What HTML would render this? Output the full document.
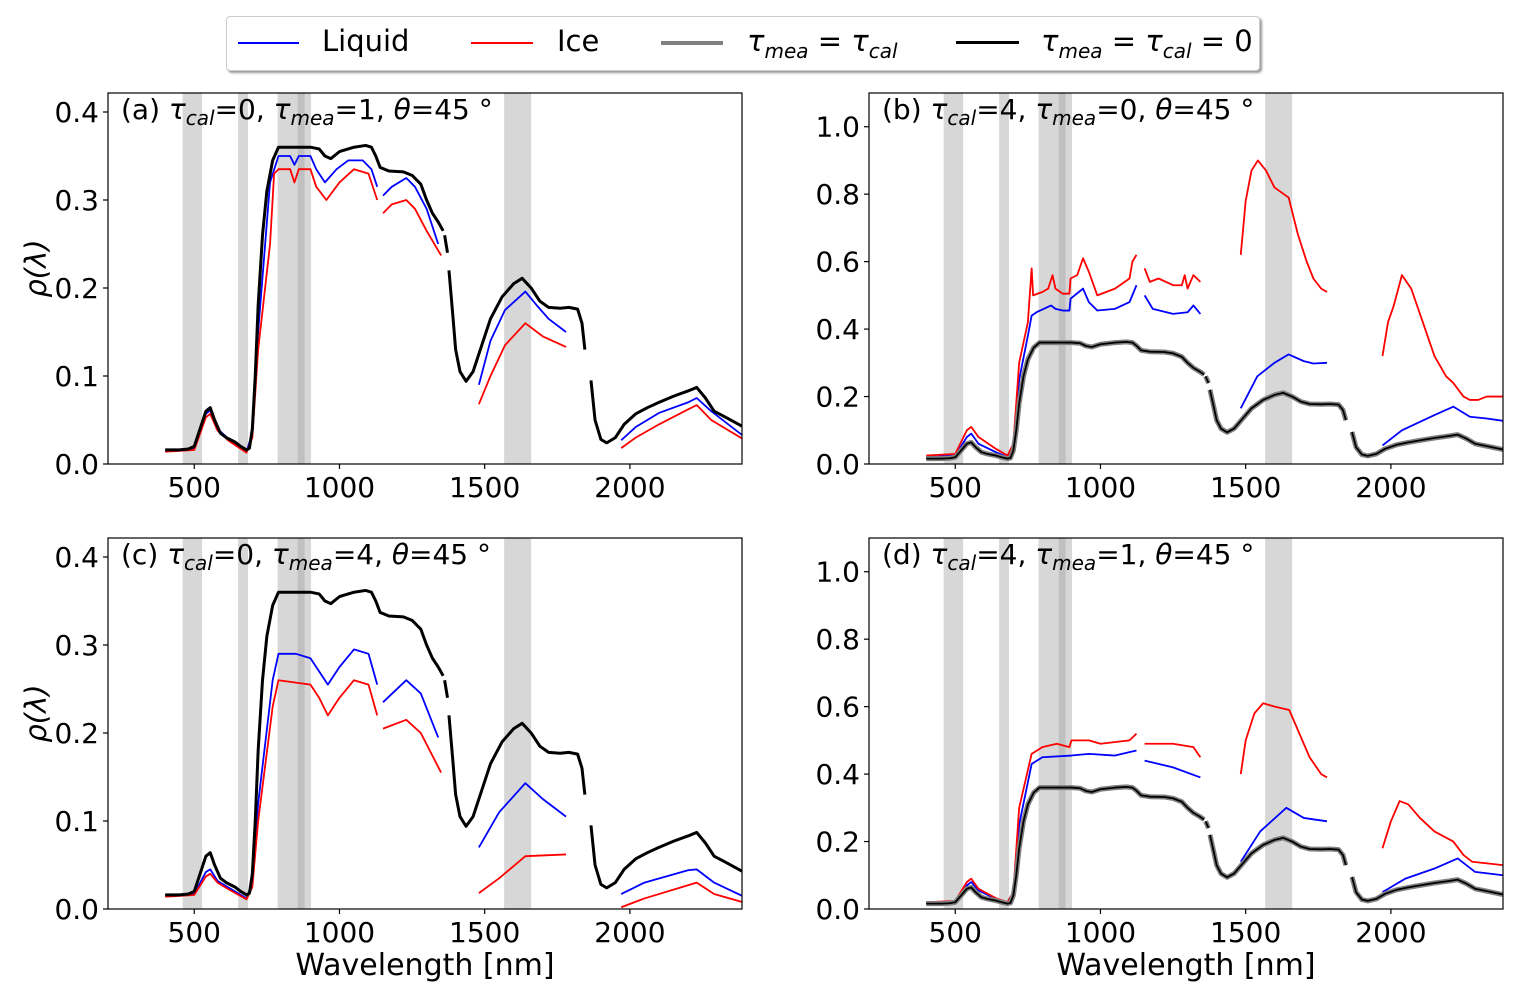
<!DOCTYPE html>
<html><head><meta charset="utf-8"><style>
body{margin:0;background:#fff}
svg text{font-family:"DejaVu Sans","Liberation Sans",sans-serif;fill:#000}
</style></head><body>
<svg id="c" width="1519" height="995" xmlns="http://www.w3.org/2000/svg"></svg>
<script>
const xTicks=[500,1000,1500,2000];
const yTicksSmall=[0.0,0.1,0.2,0.3,0.4];
const yTicksBig=[0.0,0.2,0.4,0.6,0.8,1.0];
const bands=[[460,527],[651,685],[787,902],[856,880],[1567,1660]];
const blackCurve=[
[[400,.016],[450,.016],[480,.017],[500,.02],[520,.04],[540,.06],[555,.064],[570,.05],[590,.035],[610,.03],[640,.025],[660,.02],[680,.016],[690,.018],[700,.04],[710,.1],[720,.18],[735,.26],[750,.31],[770,.345],[790,.36],[900,.36],[930,.358],[950,.35],[970,.347],[1000,.355],[1050,.36],[1090,.362],[1110,.36],[1125,.35],[1140,.337],[1170,.333],[1220,.332],[1250,.328],[1280,.318],[1300,.30],[1320,.285],[1340,.275],[1357,.265]],
[[1362,.26],[1372,.24]],
[[1377,.22],[1390,.17],[1400,.13],[1415,.105],[1436,.094],[1460,.105],[1490,.135],[1520,.165],[1560,.19],[1600,.205],[1629,.211],[1660,.2],[1690,.185],[1720,.178],[1760,.177],[1790,.178],[1820,.176],[1835,.16],[1845,.13]],
[[1866,.095],[1880,.05],[1900,.028],[1920,.024],[1950,.03],[1980,.045],[2020,.057],[2060,.064],[2100,.07],[2150,.077],[2200,.083],[2230,.087],[2260,.075],[2290,.06],[2330,.053],[2386,.043]]];
const liquidA=[
[[400,.015],[500,.018],[540,.057],[555,.061],[580,.04],[620,.028],[680,.014],[700,.035],[720,.15],[761,.32],[790,.35],[830,.35],[845,.34],[860,.35],[900,.35],[920,.335],[950,.32],[990,.335],[1030,.345],[1080,.345],[1110,.335],[1130,.315]],
[[1150,.305],[1180,.315],[1230,.325],[1260,.315],[1300,.29],[1340,.25]],
[[1480,.09],[1520,.14],[1570,.175],[1640,.196],[1680,.18],[1720,.165],[1780,.15]],
[[1970,.027],[2020,.042],[2100,.058],[2200,.07],[2230,.075],[2280,.06],[2386,.033]]];
const iceA=[
[[400,.014],[500,.016],[540,.053],[555,.057],[580,.038],[620,.026],[680,.013],[700,.03],[720,.13],[761,.25],[775,.33],[790,.335],[830,.335],[845,.32],[860,.335],[900,.335],[920,.315],[955,.30],[1000,.32],[1050,.335],[1100,.33],[1130,.30]],
[[1150,.285],[1180,.295],[1230,.30],[1260,.29],[1300,.265],[1350,.237]],
[[1480,.068],[1520,.10],[1570,.135],[1640,.16],[1700,.145],[1780,.133]],
[[1970,.018],[2020,.03],[2100,.045],[2200,.062],[2230,.067],[2280,.05],[2386,.029]]];
const liquidC=[
[[400,.015],[500,.017],[540,.042],[555,.045],[580,.032],[620,.024],[680,.012],[700,.03],[720,.12],[770,.26],[790,.29],[850,.29],[900,.285],[930,.27],[960,.255],[1000,.275],[1050,.295],[1100,.29],[1130,.255]],
[[1150,.235],[1230,.26],[1280,.245],[1340,.195]],
[[1480,.07],[1550,.11],[1640,.143],[1700,.125],[1780,.105]],
[[1970,.017],[2050,.03],[2200,.044],[2230,.045],[2290,.03],[2386,.015]]];
const iceC=[
[[400,.014],[500,.016],[540,.037],[555,.04],[580,.03],[620,.022],[680,.011],[700,.025],[720,.1],[770,.23],[790,.26],[900,.255],[930,.24],[960,.22],[1000,.24],[1050,.26],[1100,.255],[1130,.22]],
[[1150,.205],[1230,.215],[1280,.2],[1350,.155]],
[[1480,.018],[1550,.035],[1640,.06],[1780,.062]],
[[1970,.002],[2050,.012],[2200,.027],[2230,.03],[2290,.017],[2386,.008]]];
const liquidB=[
[[400,.02],[500,.025],[540,.08],[555,.09],[580,.06],[640,.035],[680,.02],[700,.06],[720,.25],[750,.38],[763,.44],[780,.45],[830,.47],[845,.46],[870,.455],[893,.455],[897,.49],[940,.52],[960,.48],[989,.455],[1050,.46],[1100,.48],[1124,.53]],
[[1152,.5],[1180,.46],[1250,.445],[1300,.45],[1320,.47],[1344,.445]],
[[1483,.165],[1540,.26],[1599,.3],[1648,.325],[1700,.305],[1733,.298],[1780,.3]],
[[1971,.055],[2038,.1],[2150,.145],[2215,.17],[2272,.14],[2330,.135],[2386,.128]]];
const iceB=[
[[400,.025],[500,.03],[540,.1],[555,.11],[580,.08],[640,.045],[680,.025],[700,.06],[720,.3],[750,.42],[763,.58],[768,.5],[800,.51],[820,.52],[835,.56],[845,.52],[870,.505],[893,.505],[897,.55],[920,.56],[940,.61],[960,.57],[989,.5],[1050,.52],[1100,.55],[1110,.6],[1124,.62]],
[[1152,.58],[1170,.54],[1200,.55],[1250,.53],[1280,.53],[1290,.56],[1300,.52],[1320,.56],[1344,.54]],
[[1483,.62],[1500,.78],[1520,.87],[1542,.90],[1570,.87],[1599,.82],[1648,.79],[1680,.68],[1710,.6],[1733,.55],[1760,.52],[1780,.51]],
[[1971,.32],[1990,.42],[2010,.47],[2038,.56],[2070,.52],[2110,.42],[2150,.32],[2190,.26],[2215,.24],[2250,.2],[2272,.19],[2300,.19],[2330,.2],[2386,.2]]];
const liquidD=[
[[400,.02],[500,.022],[540,.07],[555,.08],[580,.055],[640,.03],[680,.02],[700,.05],[720,.25],[763,.43],[800,.45],[900,.455],[960,.46],[1050,.455],[1124,.47]],
[[1152,.44],[1250,.42],[1344,.39]],
[[1483,.14],[1550,.23],[1640,.3],[1700,.27],[1780,.26]],
[[1971,.05],[2050,.09],[2150,.12],[2230,.15],[2290,.11],[2386,.1]]];
const iceD=[
[[400,.02],[500,.024],[540,.08],[555,.09],[580,.06],[640,.032],[680,.02],[700,.05],[720,.3],[763,.46],[800,.48],[850,.49],[893,.48],[900,.5],[960,.5],[1000,.49],[1100,.5],[1124,.52]],
[[1152,.49],[1250,.49],[1320,.48],[1344,.45]],
[[1483,.4],[1500,.5],[1530,.58],[1560,.61],[1600,.6],[1650,.59],[1680,.53],[1720,.45],[1760,.4],[1780,.39]],
[[1971,.18],[2000,.26],[2030,.32],[2060,.31],[2100,.27],[2150,.23],[2215,.2],[2250,.16],[2280,.14],[2386,.13]]];

const NS="http://www.w3.org/2000/svg";
const svg=document.getElementById('c');
function mk(tag,attrs,parent){const e=document.createElementNS(NS,tag);for(const k in attrs)e.setAttribute(k,attrs[k]);(parent||svg).appendChild(e);return e;}
const XMIN=203,XMAX=2386;
const panels=[
{id:'a',x0:108,y0:93,w:634,h:371,ymax:0.4216,yt:yTicksSmall,liq:liquidA,ice:iceA,gray:false,title:['(a) ','cal','=0, ','mea','=1, ','=45 °'],xlab:false,ylab:true},
{id:'b',x0:869,y0:93,w:634,h:371,ymax:1.1,yt:yTicksBig,liq:liquidB,ice:iceB,gray:true,title:['(b)  ','cal','=4, ','mea','=0, ','=45 °'],xlab:false,ylab:false},
{id:'c',x0:108,y0:538,w:634,h:371,ymax:0.4216,yt:yTicksSmall,liq:liquidC,ice:iceC,gray:false,title:['(c) ','cal','=0, ','mea','=4, ','=45 °'],xlab:true,ylab:true},
{id:'d',x0:869,y0:538,w:634,h:371,ymax:1.1,yt:yTicksBig,liq:liquidD,ice:iceD,gray:true,title:['(d) ','cal','=4, ','mea','=1, ','=45 °'],xlab:true,ylab:false}];
panels.forEach(p=>{
  const g=mk('g',{});
  
  
  const sx=v=>p.x0+(v-XMIN)/(XMAX-XMIN)*p.w;
  const sy=v=>p.y0+p.h-v/p.ymax*p.h;
  const cp=mk('clipPath',{id:'cp'+p.id},g);mk('rect',{x:p.x0,y:p.y0,width:p.w,height:p.h},cp);
  const inner=mk('g',{'clip-path':'url(#cp'+p.id+')'},g);
  bands.forEach(b=>{const r=mk('rect',{x:sx(b[0]),y:p.y0,width:sx(b[1])-sx(b[0]),height:p.h,fill:'#a0a0a0','fill-opacity':0.42},inner);
    
    });
  const line=(segs,color,w,name)=>segs.forEach(s=>{const pl=mk('polyline',{points:s.map(q=>sx(q[0])+','+sy(q[1])).join(' '),fill:'none',stroke:color,'stroke-width':w,'stroke-linejoin':'round'},inner);
    
    });
  line(p.liq,'#0000ff',1.8,'liquid-line');
  line(p.ice,'#ff0000',1.8,'ice-line');
  if(p.gray){line(blackCurve,'#808080',5,'gray-line');line(blackCurve,'#000',1.8,'black-line');}
  else line(blackCurve,'#000',3,'black-line');
  const fr=mk('rect',{x:p.x0,y:p.y0,width:p.w,height:p.h,fill:'none',stroke:'#000','stroke-width':1.2},g);
  
  
  xTicks.forEach(t=>{const x=sx(t);mk('line',{x1:x,x2:x,y1:p.y0+p.h,y2:p.y0+p.h+5,stroke:'#000','stroke-width':1.2},g);
    const tx=mk('text',{x:x,y:p.y0+p.h+33,'font-size':28,'text-anchor':'middle'},g);tx.textContent=t;
    
    });
  p.yt.forEach(t=>{const y=sy(t);mk('line',{x1:p.x0-5,x2:p.x0,y1:y,y2:y,stroke:'#000','stroke-width':1.2},g);
    const tx=mk('text',{x:p.x0-9,y:y+10,'font-size':28,'text-anchor':'end'},g);tx.textContent=t.toFixed(1);
    
    });
  const tt=mk('text',{x:p.x0+13,y:p.y0+26,'font-size':28},g);
  
  
  const parts=[[p.title[0],0],['τ',2],[p.title[1],1],[p.title[2],0],['τ',2],[p.title[3],1],[p.title[4],0],['θ',2],[p.title[5],0]];
  let prevSub=false;
  parts.forEach(q=>{const s=mk('tspan',{},tt);s.textContent=q[0];
    if(q[1]==1){s.setAttribute('font-size','20');s.setAttribute('font-style','italic');s.setAttribute('dy','6');}
    else {if(q[1]==2)s.setAttribute('font-style','italic');if(prevSub)s.setAttribute('dy','-6');}
    prevSub=(q[1]==1);});
  if(p.xlab){const t=mk('text',{x:p.x0+p.w/2,y:p.y0+p.h+66,'font-size':30,'text-anchor':'middle'},g);t.textContent='Wavelength [nm]';
    
    }
  if(p.ylab){const cy=p.y0+p.h/2-10;const t=mk('text',{x:46,y:cy,'font-size':29,'font-style':'italic','text-anchor':'middle',transform:'rotate(-90 46 '+cy+')'},g);t.textContent='ρ(λ)';
    
    }
});
</script>
<div style="position:absolute;left:226px;top:16px;width:1032px;height:53px;border:1px solid #ccc;border-radius:4px;background:#fff;box-shadow:2px 2px 2px #999;font-family:'DejaVu Sans',sans-serif;font-size:29px">
  <div><div style="position:absolute;left:11px;top:25px;width:61px;height:1.6px;background:#00f"></div><span style="position:absolute;left:95px;top:7px">Liquid</span></div>
  <div><div style="position:absolute;left:244px;top:25px;width:62px;height:1.6px;background:#f00"></div><span style="position:absolute;left:330px;top:7px">Ice</span></div>
  <div><div style="position:absolute;left:434px;top:24px;width:62px;height:3.5px;background:#808080"></div><span style="position:absolute;left:520px;top:7px;white-space:nowrap"><i>τ<sub style="font-size:20px">mea</sub></i> = <i>τ<sub style="font-size:20px">cal</sub></i></span></div>
  <div><div style="position:absolute;left:729px;top:24px;width:63px;height:3px;background:#000"></div><span style="position:absolute;left:814px;top:7px;white-space:nowrap"><i>τ<sub style="font-size:20px">mea</sub></i> = <i>τ<sub style="font-size:20px">cal</sub></i> = 0</span></div>
</div>
</body></html>
